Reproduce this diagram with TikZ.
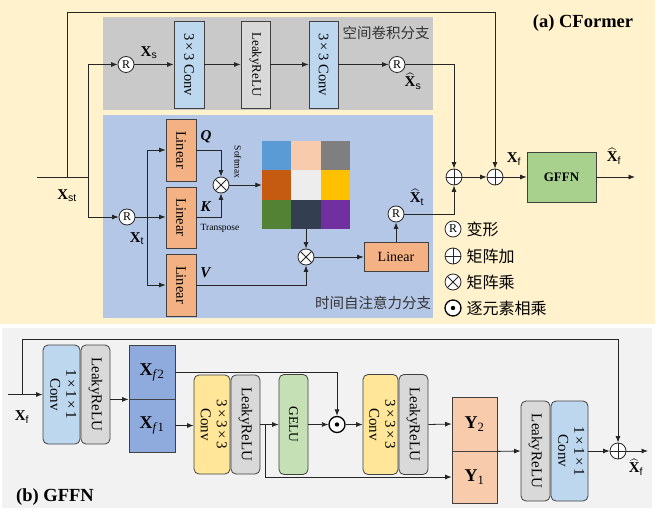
\documentclass[tikz,border=0pt]{standalone}
\usepackage{fontspec}
\usepackage{amsmath}
\usepackage{graphicx}
\setmainfont{Liberation Serif}
\setsansfont{Liberation Sans}
\newfontfamily\cjk{Noto Sans CJK SC}
\usetikzlibrary{arrows.meta}

\definecolor{panelA}{HTML}{FFF2CC}
\definecolor{panelB}{HTML}{F2F2F2}
\definecolor{spaceBg}{HTML}{C9C9C9}
\definecolor{timeBg}{HTML}{B4C7E7}
\definecolor{convBlue}{HTML}{BDD7EE}
\definecolor{reluGrey}{HTML}{D9D9D9}
\definecolor{linOrange}{HTML}{F4B183}
\definecolor{ffnGreen}{HTML}{A9D18E}
\definecolor{geluGreen}{HTML}{C5E0B4}
\definecolor{convYellow}{HTML}{FFE699}
\definecolor{splitBlue}{HTML}{8FAADC}
\definecolor{yPeach}{HTML}{F8CBAD}
\definecolor{hmA}{HTML}{5B9BD5}
\definecolor{hmB}{HTML}{F8CBAD}
\definecolor{hmC}{HTML}{7F7F7F}
\definecolor{hmD}{HTML}{C55A11}
\definecolor{hmE}{HTML}{EDEDED}
\definecolor{hmF}{HTML}{FFC000}
\definecolor{hmG}{HTML}{548235}
\definecolor{hmH}{HTML}{333F50}
\definecolor{hmI}{HTML}{7030A0}

\newcommand\rotlabel[1]{\rotatebox{-90}{#1}}
\newcommand\twolines[2]{\rotatebox{-90}{\begin{tabular}{@{}c@{}}#1\\#2\end{tabular}}}
\newcommand\xlab[1]{\textbf{X}\textsubscript{\textsf{#1}}}
\newcommand\xhat[1]{$\widehat{\mbox{\textbf{X}}}$\textsubscript{\textsf{#1}}}

\begin{document}
\begin{tikzpicture}[x=1pt, y=-1pt,
		wire/.style={draw=black!85, line width=0.8pt},
		arr/.style={wire, -{Latex[length=6.5pt, width=5pt]}},
		blk/.style={draw=black!75, line width=0.8pt, inner sep=0pt},
		rblk/.style={blk, rounded corners=5pt},
		txt/.style={font=\fontsize{14.5}{16}\selectfont},
		rtxt/.style={font=\fontsize{13}{15}\selectfont},
		btxt/.style={font=\fontsize{15}{16}\selectfont},
		lab/.style={inner sep=1pt, font=\fontsize{15}{15}\selectfont},
		cn/.style={font=\cjk\fontsize{14.5}{15}\selectfont, text=black!80},
		lg/.style={anchor=west, font=\cjk\fontsize{16}{16}\selectfont},
		rsh/.style={circle, draw=black!85, fill=white, line width=0.8pt, inner sep=0pt, minimum size=16pt, font=\fontsize{12}{12}\selectfont},
		op/.style={circle, draw=black!85, fill=white, line width=0.8pt, inner sep=0pt, minimum size=16pt},
		oplus/.style={op, path picture={\draw[black!85, line width=0.8pt] (path picture bounding box.north) -- (path picture bounding box.south) (path picture bounding box.west) -- (path picture bounding box.east);}},
		otimes/.style={op, path picture={\draw[black!85, line width=0.8pt] (path picture bounding box.north west) -- (path picture bounding box.south east) (path picture bounding box.north east) -- (path picture bounding box.south west);}},
		odot/.style={op, line width=1.3pt, draw=black, path picture={\fill[black] (path picture bounding box.center) circle (2.2pt);}}]
			%%%%% START %%%%%
			
			\useasboundingbox (0,0) rectangle (660,518);
			\fill[panelA] (0,0) rectangle (655,324);
			\fill[panelB] (2,328) rectangle (652,508);
			
			\fill[spaceBg] (103,17) rectangle (433,110);
			\fill[timeBg] (103,115) rectangle (433,318);
			
			\node[font=\bfseries\fontsize{18.5}{20}\selectfont] (titlea) at (583,23) {(a) CFormer};
			\node[cn] (spname) at (386,33) {空间卷积分支};
			\node[cn] (tmname) at (373,303) {时间自注意力分支};
			
			%%%%% INPUT %%%%%
			
			\coordinate (xin) at (37,177);
			\coordinate (xsplit) at (67,177);
			\coordinate (xsplitb) at (88,177);
			\coordinate (xtop) at (67,12);
			\node[lab] (xstlab) at (67,196) {\xlab{st}};
			
			%%%%% SPATIAL %%%%%
			
			\node[rsh] (rs) at (126,64.5) {R};
			\node[lab] (xslab) at (149,53) {\xlab{s}};
			\node[blk, txt, fill=convBlue, minimum width=30pt, minimum height=87pt] (sconva) at (189,64.5) {\rotlabel{3\,×\,3 Conv}};
			\node[blk, rtxt, fill=reluGrey, minimum width=29pt, minimum height=87pt] (srelu) at (255.5,64.5) {\rotlabel{LeakyReLU}};
			\node[blk, txt, fill=convBlue, minimum width=29pt, minimum height=87pt] (sconvb) at (323.5,64.5) {\rotlabel{3\,×\,3 Conv}};
			\node[rsh] (rs2) at (397,64.5) {R};
			\node[lab] (xshlab) at (413,81) {\xhat{s}};
			
			%%%%% TEMPORAL %%%%%
			
			\node[rsh] (rt) at (127,217) {R};
			\node[lab] (xtlab) at (137,239) {\xlab{t}};
			\coordinate (tsplit) at (147,217);
			\node[blk, txt, fill=linOrange, minimum width=30pt, minimum height=62pt] (lq) at (181,150) {\rotlabel{Linear}};
			\node[blk, txt, fill=linOrange, minimum width=30pt, minimum height=61pt] (lk) at (181,217.5) {\rotlabel{Linear}};
			\node[blk, txt, fill=linOrange, minimum width=30pt, minimum height=62pt] (lv) at (181,285) {\rotlabel{Linear}};
			\node[lab] (qlab) at (206,137) {\textbf{\textit{Q}}};
			\node[lab] (klab) at (206,207) {\textbf{\textit{K}}};
			\node[lab] (vlab) at (206,273) {\textbf{\textit{V}}};
			\node[font=\fontsize{9.5}{10}\selectfont] (trlab) at (220,228) {Transpose};
			\node[font=\fontsize{9.5}{10}\selectfont] (smlab) at (238,162) {\rotlabel{Softmax}};
			\node[otimes] (mula) at (221,185) {};
			
			\node[minimum size=88pt, inner sep=0pt] (att) at (306,185) {};
			\foreach \c/\i/\j in {hmA/0/0, hmB/1/0, hmC/2/0, hmD/0/1, hmE/1/1, hmF/2/1, hmG/0/2, hmH/1/2, hmI/2/2}
				\fill[\c] (262+\i*29.33, 141+\j*29.33) rectangle +(29.33,29.33);
			
			\node[otimes] (mulb) at (306,257) {};
			\node[blk, font=\fontsize{14}{15}\selectfont, fill=linOrange, minimum width=64pt, minimum height=29pt] (lo) at (396,257) {Linear};
			\node[rsh] (rt2) at (396,214) {R};
			\node[lab] (xthlab) at (417,197) {\xhat{t}};
			
			%%%%% MERGE %%%%%
			
			\node[oplus] (adda) at (454,177) {};
			\node[oplus] (addb) at (495,177) {};
			\node[lab] (xflab) at (514,159) {\xlab{f}};
			\node[blk, fill=ffnGreen, font=\bfseries\fontsize{13}{14}\selectfont, minimum width=69pt, minimum height=50pt] (gffn) at (561.5,177) {GFFN};
			\node[lab] (xfhlab) at (614,156) {\xhat{f}};
			\coordinate (xout) at (635,177);
			
			%%%%% LEGEND %%%%%
			
			\node[rsh] (lgr) at (453,229) {R};
			\node[lg] (lgrt) at (463,229) {变形};
			\node[oplus] (lgp) at (453,256) {};
			\node[lg] (lgpt) at (463,256) {矩阵加};
			\node[otimes] (lgm) at (453,282) {};
			\node[lg] (lgmt) at (463,282) {矩阵乘};
			\node[odot] (lgd) at (453,308) {};
			\node[lg] (lgdt) at (463,308) {逐元素相乘};
			
			%%%%% CONNECTORS (a) %%%%%
			
			\draw[wire] (xin) -- (xsplitb);
			\draw[arr] (xsplit) -- (xtop) -| (addb.north);
			\draw[arr] (xsplitb) |- (rs.west);
			\draw[arr] (xsplitb) |- (rt.west);
			\draw[arr] (rs.east) -- (sconva.west);
			\draw[arr] (sconva.east) -- (srelu.west);
			\draw[arr] (srelu.east) -- (sconvb.west);
			\draw[arr] (sconvb.east) -- (rs2.west);
			\draw[arr] (rs2.east) -| (adda.north);
			
			\draw[arr] (rt.east) -- (rt.east -| lk.west);
			\draw[arr] (tsplit) |- (lq.west);
			\draw[arr] (tsplit) |- (lv.west);
			\draw[arr] (lq.east) -| (mula.north);
			\draw[arr] (lk.east) -| (mula.south);
			\draw[arr] (mula.east) -- (att.west);
			\draw[arr] (att.south) -- (mulb.north);
			\draw[arr] (lv.east) -| (mulb.south);
			\draw[arr] (mulb.east) -- (lo.west);
			\draw[arr] (lo.north) -- (rt2.south);
			\draw[arr] (rt2.east) -| (adda.south);
			
			\draw[arr] (adda.east) -- (addb.west);
			\draw[arr] (addb.east) -- (gffn.west);
			\draw[arr] (gffn.east) -- (xout);
			
			%%%%% (b) GFFN %%%%%
			
			\node[font=\bfseries\fontsize{18.5}{20}\selectfont] (titleb) at (55,497) {(b) GFFN};
			
			\coordinate (fin) at (8,394.5);
			\coordinate (fsplit) at (22,394.5);
			\coordinate (ftop) at (22,339);
			\node[lab] (fxlab) at (22,417) {\xlab{f}};
			
			\node[rblk, btxt, fill=convBlue, minimum width=37pt, minimum height=99pt] (bconva) at (61.5,394.5) {\twolines{1\,×\,1\,×\,1}{Conv}};
			\node[rblk, btxt, fill=reluGrey, minimum width=29pt, minimum height=99pt] (brelua) at (95.5,394.5) {\rotlabel{LeakyReLU}};
			
			\node[blk, fill=splitBlue, minimum width=46pt, minimum height=54pt, font=\fontsize{18}{18}\selectfont] (xf2) at (152,372) {\textbf{X}\textsubscript{\textit{f}2}};
			\node[blk, fill=splitBlue, minimum width=46pt, minimum height=53pt, font=\fontsize{18}{18}\selectfont] (xf1) at (152,425.5) {\textbf{X}\textsubscript{\textit{f}1}};
			
			\node[rblk, btxt, fill=convYellow, minimum width=36pt, minimum height=99pt] (bconvb) at (212,424.5) {\twolines{3\,×\,3\,×\,3}{Conv}};
			\node[rblk, btxt, fill=reluGrey, minimum width=29pt, minimum height=99pt] (brelub) at (245.5,424.5) {\rotlabel{LeakyReLU}};
			\coordinate (gsplit) at (265,424.5);
			\node[rblk, font=\fontsize{13.5}{15}\selectfont, fill=geluGreen, minimum width=29pt, minimum height=100pt] (gelu) at (293.5,424.5) {\rotlabel{GELU}};
			\node[odot] (dot) at (337,424.5) {};
			\node[rblk, btxt, fill=convYellow, minimum width=35pt, minimum height=100pt] (bconvc) at (380.5,424.5) {\twolines{3\,×\,3\,×\,3}{Conv}};
			\node[rblk, btxt, fill=reluGrey, minimum width=29pt, minimum height=100pt] (brelc) at (413.5,424.5) {\rotlabel{LeakyReLU}};
			
			\node[blk, fill=yPeach, minimum width=45pt, minimum height=54pt, font=\fontsize{18}{18}\selectfont] (ya) at (474.5,424) {\textbf{Y}\textsubscript{2}};
			\node[blk, fill=yPeach, minimum width=45pt, minimum height=52pt, font=\fontsize{18}{18}\selectfont] (yb) at (474.5,477) {\textbf{Y}\textsubscript{1}};
			
			\node[rblk, btxt, fill=reluGrey, minimum width=29pt, minimum height=100pt] (breld) at (535.5,451) {\rotlabel{LeakyReLU}};
			\node[rblk, btxt, fill=convBlue, minimum width=37pt, minimum height=100pt] (bconvd) at (569.5,451) {\twolines{1\,×\,1\,×\,1}{Conv}};
			\node[oplus] (addc) at (618,451) {};
			\coordinate (fout) at (648,451);
			\node[lab] (fxhlab) at (636,467) {\xhat{f}};
			
			%%%%% CONNECTORS (b) %%%%%
			
			\draw[arr] (fin) -- (bconva.west);
			\draw[arr] (fsplit) -- (ftop) -| (addc.north);
			\draw[arr] (brelua.east |- xf2.south) -- (xf2.south west);
			\draw[arr] (xf2.east) -| (dot.north);
			\draw[arr] (xf1.east) -- (xf1.east -| bconvb.west);
			\draw[wire] (brelub.east) -- (gsplit);
			\draw[arr] (gsplit) -- (gelu.west);
			\draw[arr] (gsplit) |- (yb.west);
			\draw[arr] (gelu.east) -- (dot.west);
			\draw[arr] (dot.east) -- (bconvc.west);
			\draw[arr] (brelc.east) -- (ya.west);
			\draw[arr] (ya.south east) -- (breld.west);
			\draw[arr] (bconvd.east) -- (addc.west);
			\draw[arr] (addc.east) -- (fout);
			
			%%%%% END %%%%%
\end{tikzpicture}
\end{document}
